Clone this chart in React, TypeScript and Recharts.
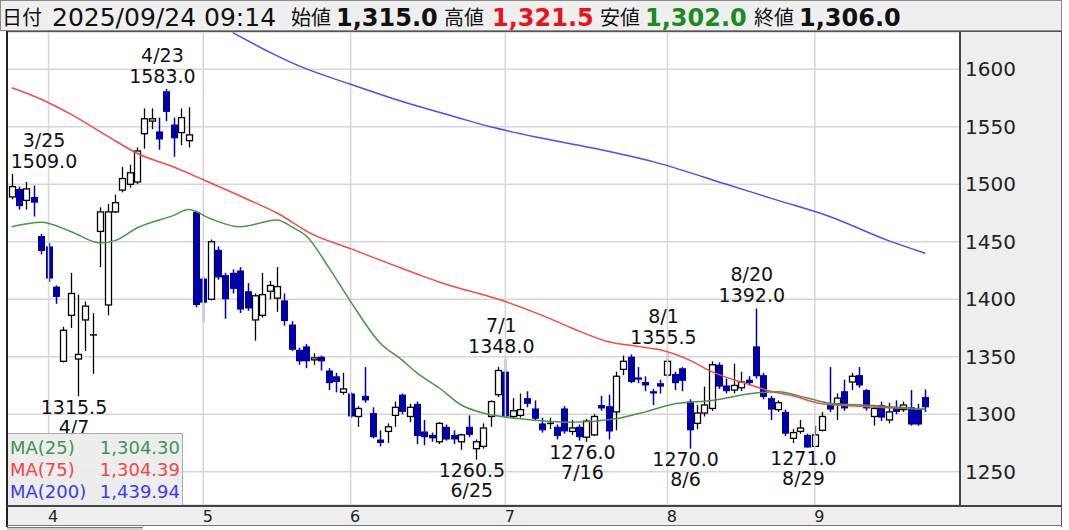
import React from "react";
import { ComposedChart, Bar, Line, XAxis, YAxis, CartesianGrid, ReferenceLine, ReferenceDot } from "recharts";

const dates = [
  "3/25", "3/26", "3/27", "3/28", "3/31",
  "4/1", "4/2", "4/3", "4/4", "4/7", "4/8", "4/9", "4/10", "4/11", "4/14", "4/15", "4/16", "4/17", "4/18", "4/21", "4/22", "4/23", "4/24", "4/25", "4/28", "4/30",
  "5/1", "5/2", "5/7", "5/8", "5/9", "5/12", "5/13", "5/14", "5/15", "5/16", "5/19", "5/20", "5/21", "5/22", "5/23", "5/26", "5/27", "5/28", "5/29", "5/30",
  "6/2", "6/3", "6/4", "6/5", "6/6", "6/9", "6/10", "6/11", "6/12", "6/13", "6/16", "6/17", "6/18", "6/19", "6/20", "6/23", "6/24", "6/25", "6/26", "6/27", "6/30",
  "7/1", "7/2", "7/3", "7/4", "7/7", "7/8", "7/9", "7/10", "7/11", "7/14", "7/15", "7/16", "7/17", "7/18", "7/22", "7/23", "7/24", "7/25", "7/28", "7/29", "7/30", "7/31",
  "8/1", "8/4", "8/5", "8/6", "8/7", "8/8", "8/12", "8/13", "8/14", "8/15", "8/18", "8/19", "8/20", "8/21", "8/22", "8/25", "8/26", "8/27", "8/28", "8/29",
  "9/1", "9/2", "9/3", "9/4", "9/5", "9/8", "9/9", "9/10", "9/11", "9/12", "9/16", "9/17", "9/18", "9/19", "9/22", "9/24",
];

const opens = [
  1489, 1496, 1486, 1489, 1455,
  1446, 1411, 1346, 1386, 1348, 1382, 1369, 1459, 1395, 1476, 1495, 1500, 1502, 1544, 1555, 1546, 1581, 1552, 1545, 1538, 1476,
  1418, 1400, 1443, 1421, 1423, 1425, 1407, 1382, 1386, 1407, 1401, 1399, 1378, 1356, 1359, 1348, 1350, 1338, 1333, 1319,
  1318, 1298, 1316, 1301, 1278, 1285, 1299, 1317, 1298, 1309, 1285, 1282, 1276, 1289, 1282, 1276, 1289, 1270, 1272, 1298, 1317,
  1337, 1298, 1299, 1314, 1305, 1292, 1292, 1289, 1305, 1285, 1289, 1280, 1282, 1308, 1307, 1302, 1339, 1350, 1332, 1328, 1320, 1327,
  1334, 1335, 1340, 1311, 1292, 1301, 1305, 1343, 1325, 1321, 1323, 1330, 1359, 1334, 1314, 1304, 1302, 1279, 1285, 1282,
  1272, 1286, 1309, 1309, 1320, 1328, 1334, 1321, 1298, 1308, 1295, 1306, 1304, 1306, 1304, 1315,
];

const highs = [
  1509, 1498, 1502, 1499, 1457,
  1449, 1412, 1376, 1423, 1404, 1398, 1388, 1480, 1483, 1491, 1515, 1517, 1532, 1566, 1566, 1558, 1583, 1558, 1566, 1567, 1477,
  1420, 1452, 1446, 1423, 1426, 1428, 1414, 1405, 1423, 1416, 1428, 1405, 1381, 1358, 1361, 1353, 1351, 1340, 1336, 1336,
  1319, 1307, 1341, 1306, 1286, 1292, 1311, 1318, 1309, 1311, 1295, 1284, 1293, 1291, 1286, 1283, 1299, 1278, 1292, 1312, 1341,
  1348, 1314, 1318, 1320, 1312, 1297, 1297, 1291, 1307, 1295, 1291, 1296, 1300, 1316, 1317, 1337, 1351, 1352, 1341, 1333, 1322, 1330,
  1355.5, 1337, 1341, 1313, 1308, 1324, 1346, 1345, 1331, 1344, 1337, 1333, 1392, 1336, 1316, 1312, 1304, 1287, 1295, 1283,
  1290, 1302, 1341, 1318, 1330, 1336, 1341, 1322, 1307, 1311, 1310, 1312, 1311, 1321, 1309, 1321.5,
];

const lows = [
  1487, 1478, 1478, 1472, 1439,
  1415, 1396, 1345, 1375, 1315.5, 1355, 1335, 1428, 1386, 1475, 1493, 1497, 1500, 1531, 1548, 1530, 1555, 1524, 1534, 1532, 1393,
  1380, 1399, 1417, 1383, 1405, 1388, 1390, 1364, 1384, 1400, 1389, 1377, 1355, 1343, 1340, 1343, 1338, 1321, 1319, 1317,
  1297, 1289, 1310, 1279, 1272, 1275, 1289, 1300, 1293, 1274, 1273, 1276, 1274, 1277, 1274, 1269, 1280, 1260.5, 1270, 1289, 1315,
  1297, 1296, 1297, 1306, 1294, 1284, 1287, 1278, 1283, 1282, 1277, 1276, 1281, 1303, 1278, 1286, 1334, 1327, 1327, 1320, 1308, 1318,
  1332, 1321, 1320, 1270, 1287, 1298, 1303, 1322, 1318, 1318, 1320, 1325, 1331, 1313, 1295, 1302, 1281, 1275, 1283, 1271,
  1272, 1285, 1302, 1295, 1303, 1321, 1323, 1303, 1290, 1294, 1292, 1300, 1302, 1290, 1290, 1302,
];

const closes = [
  1498, 1481, 1496, 1484, 1442,
  1418, 1402, 1373, 1405, 1352, 1394, 1369, 1476, 1476, 1484, 1505, 1510, 1529, 1557, 1557, 1539, 1563, 1540, 1558, 1543, 1395,
  1397, 1450, 1419, 1400, 1409, 1391, 1392, 1403, 1404, 1412, 1411, 1381, 1356, 1346, 1346, 1349, 1346, 1327, 1328, 1322,
  1298, 1305, 1312, 1280, 1275, 1289, 1306, 1302, 1306, 1281, 1280, 1279, 1292, 1278, 1278, 1282, 1282, 1276, 1288, 1311, 1338,
  1298, 1303, 1304, 1309, 1296, 1286, 1292, 1281, 1285, 1288, 1280, 1294, 1298, 1305, 1285, 1333, 1346, 1328, 1330, 1325, 1318, 1324,
  1346, 1327, 1329, 1286, 1301, 1308, 1343, 1324, 1320, 1325, 1328, 1327, 1333, 1315, 1304, 1310, 1283, 1284, 1288, 1271,
  1282, 1298, 1304, 1314, 1305, 1333, 1325, 1305, 1305, 1297, 1302, 1302, 1308, 1291, 1291, 1306,
];

// moving averages, as [candle index, value]
const ma25Points: [number, number][] = [
  [0, 1463], [4, 1467], [8, 1459], [12, 1449], [14, 1451], [17, 1462], [22, 1473], [24, 1478], [27, 1470],
  [31, 1463], [36, 1469], [38, 1463], [40, 1455], [43, 1428], [46, 1398], [50, 1362], [53, 1347], [55, 1336],
  [58, 1323], [61, 1308], [64, 1301], [69, 1296], [76, 1293], [82, 1296], [86, 1302], [90, 1309], [95, 1312],
  [101, 1318.5], [104, 1319.5], [108, 1314], [111, 1309.6], [117, 1307.5], [124, 1304.3],
];
const ma75Points: [number, number][] = [
  [0, 1584], [4, 1574], [8, 1561], [13, 1542], [17, 1527], [22, 1515], [26, 1504], [32, 1487], [36, 1475],
  [41, 1456], [46, 1444], [50, 1434], [55, 1422], [58, 1415], [67, 1398], [72, 1386], [76, 1375], [81, 1363],
  [85, 1359], [88, 1356], [92, 1347], [95, 1337], [98, 1330], [100, 1326], [103, 1320], [106, 1316], [110, 1309],
  [115, 1307], [119, 1305.7], [124, 1304.4],
];
const ma200Points: [number, number][] = [
  [30, 1632], [35, 1615], [39, 1603], [46, 1587], [53, 1572], [60, 1559], [65, 1550], [72, 1540], [80, 1530],
  [88, 1518], [97, 1500], [104, 1486], [111, 1472], [119, 1451], [124, 1440],
];

const monthStarts = ["4/1", "5/1", "6/2", "7/1", "8/1", "9/1"];
const yTicks = [1250, 1300, 1350, 1400, 1450, 1500, 1550, 1600];

const highMarks = [
  { date: "3/25", value: 1509.0 },
  { date: "4/23", value: 1583.0 },
  { date: "7/1", value: 1348.0 },
  { date: "8/1", value: 1355.5 },
  { date: "8/20", value: 1392.0 },
];
const lowMarks = [
  { date: "4/7", value: 1315.5 },
  { date: "6/25", value: 1260.5 },
  { date: "7/16", value: 1276.0 },
  { date: "8/6", value: 1270.0 },
  { date: "8/29", value: 1271.0 },
];

const m25 = new Map(ma25Points);
const m75 = new Map(ma75Points);
const m200 = new Map(ma200Points);

const data = dates.map((date, i) => ({
  date,
  open: opens[i],
  high: highs[i],
  low: lows[i],
  close: closes[i],
  ma25: m25.has(i) ? m25.get(i) : null,
  ma75: m75.has(i) ? m75.get(i) : null,
  ma200: m200.has(i) ? m200.get(i) : null,
}));

const BLUE = "#0000a8";
const FONT = "DejaVu Sans";

function Candle(props: any) {
  const { x, y, width, height, payload } = props;
  if (x == null || !payload) return null;
  const { open, high, low, close } = payload;
  const cx = Math.round(x + width / 2) + 0.5;
  const span = high - low;
  const toY = (v: number) => (span ? y + ((high - v) / span) * height : y);
  const top = toY(Math.max(open, close));
  const bot = toY(Math.min(open, close));
  if (open === close) {
    return (
      <g>
        <line x1={cx} x2={cx} y1={y} y2={y + height} stroke="#000" strokeWidth={1.3} />
        <line x1={cx - 3.5} x2={cx + 3.5} y1={top} y2={top} stroke="#000" strokeWidth={1.5} />
      </g>
    );
  }
  if (close > open) {
    return (
      <g>
        <line x1={cx} x2={cx} y1={y} y2={y + height} stroke="#000" strokeWidth={1.3} />
        <rect x={cx - 3} y={top} width={6} height={Math.max(bot - top, 2)} fill="#fff" stroke="#000" strokeWidth={1.3} />
      </g>
    );
  }
  return (
    <g>
      <line x1={cx} x2={cx} y1={y} y2={y + height} stroke={BLUE} strokeWidth={1.5} />
      <rect x={cx - 3.5} y={top} width={7} height={Math.max(bot - top, 1.5)} fill={BLUE} />
    </g>
  );
}

const labelStyle = { fontSize: 19, fontFamily: FONT, fill: "#111" };

function HighLabel(props: any) {
  const { cx, cy, mark } = props;
  if (cx == null) return null;
  const tx = Math.max(cx - 4, 44);
  return (
    <g>
      <text x={tx} y={cy - 27} textAnchor="middle" {...labelStyle}>{mark.date}</text>
      <text x={tx} y={cy - 6} textAnchor="middle" {...labelStyle}>{mark.value.toFixed(1)}</text>
    </g>
  );
}

function LowLabel(props: any) {
  const { cx, cy, mark } = props;
  if (cx == null) return null;
  const tx = cx - 4;
  return (
    <g>
      <text x={tx} y={cy + 17.5} textAnchor="middle" {...labelStyle}>{mark.value.toFixed(1)}</text>
      <text x={tx} y={cy + 37.5} textAnchor="middle" {...labelStyle}>{mark.date}</text>
    </g>
  );
}

function PriceTick(props: any) {
  const { x, y, payload } = props;
  return (
    <text x={x + 5} y={y + 7} textAnchor="start" fontSize={20} fontFamily={FONT} fill="#222">
      {payload.value}
    </text>
  );
}

function MonthTick(props: any) {
  const { x, y, payload } = props;
  return (
    <text x={x + 4.5} y={y + 17} textAnchor="middle" fontSize={16} fontFamily={FONT} fill="#222">
      {String(payload.value).split("/")[0]}
    </text>
  );
}

const header = [
  { text: "日付", x: 2, kind: "label" },
  { text: "2025/09/24 09:14", x: 52, kind: "date" },
  { text: "始値", x: 291, kind: "label" },
  { text: "1,315.0", x: 336, kind: "value", color: "#111" },
  { text: "高値", x: 444, kind: "label" },
  { text: "1,321.5", x: 492, kind: "value", color: "#e8141c" },
  { text: "安値", x: 600, kind: "label" },
  { text: "1,302.0", x: 645, kind: "value", color: "#1c8a1c" },
  { text: "終値", x: 754, kind: "label" },
  { text: "1,306.0", x: 799, kind: "value", color: "#111" },
];

function headerStyle(kind: string, x: number, color?: string): React.CSSProperties {
  if (kind === "label") {
    return { position: "absolute", left: x, top: 25 - 0.88 * 20, fontSize: 20, lineHeight: "20px", fontFamily: "Noto Sans CJK JP", color: "#111", whiteSpace: "nowrap" };
  }
  const size = kind === "date" ? 25 : 24;
  return {
    position: "absolute", left: x, top: 26 - 0.846 * size, fontSize: size, lineHeight: `${size}px`,
    fontFamily: FONT, fontWeight: kind === "value" ? "bold" : "normal", color: color || "#111", whiteSpace: "nowrap",
  };
}

const legendRows = [
  { name: "MA(25)", value: "1,304.30", color: "#3c9650" },
  { name: "MA(75)", value: "1,304.39", color: "#f04646" },
  { name: "MA(200)", value: "1,439.94", color: "#3c3cf0" },
];

export default function App() {
  return (
    <div style={{ position: "relative", width: 1069, height: 530, overflow: "hidden", background: "#fff" }}>
      <style>{"body{margin:0;}"}</style>

      <div style={{ position: "absolute", left: 0, top: 0, width: 1062, height: 31, boxSizing: "border-box", border: "1px solid #8a8a8a", background: "#efefef" }} />
      {header.map((h) => (
        <span key={h.text} style={headerStyle(h.kind, h.x, h.color)}>{h.text}</span>
      ))}

      <div style={{ position: "absolute", left: 960, top: 32, width: 102, height: 473, background: "#eeeeee" }} />
      <div style={{ position: "absolute", left: 7, top: 505, width: 1055, height: 21, background: "#eeeeee" }} />

      <div style={{ position: "absolute", left: 0, top: 32 }}>
        <ComposedChart width={1062} height={495} data={data} margin={{ top: 0, right: 0, bottom: 0, left: 8 }}>
          <CartesianGrid vertical={false} stroke="#d6d6d6" strokeWidth={1.5} />
          {monthStarts.map((d) => (
            <ReferenceLine key={d} x={d} stroke="#d6d6d6" strokeWidth={1.5} />
          ))}
          <XAxis
            dataKey="date"
            ticks={monthStarts}
            interval={0}
            height={22}
            axisLine={false}
            tickLine={false}
            tickSize={0}
            tickMargin={0}
            padding={{ left: 0, right: 31 }}
            tick={<MonthTick />}
          />
          <YAxis
            orientation="right"
            width={102}
            domain={[1221, 1632.5]}
            ticks={yTicks}
            allowDataOverflow
            axisLine={false}
            tickLine={false}
            tickSize={0}
            tickMargin={0}
            tick={<PriceTick />}
          />
          <Bar dataKey={(d: any) => [d.low, d.high]} shape={<Candle />} isAnimationActive={false} />
          <Line dataKey="ma200" type="monotone" stroke="#4d4df0" strokeWidth={1.5} dot={false} connectNulls isAnimationActive={false} />
          <Line dataKey="ma75" type="monotone" stroke="#f04a4a" strokeWidth={1.5} dot={false} connectNulls isAnimationActive={false} />
          <Line dataKey="ma25" type="monotone" stroke="#4a944a" strokeWidth={1.5} dot={false} connectNulls isAnimationActive={false} />
          {highMarks.map((m) => (
            <ReferenceDot key={"h" + m.date} x={m.date} y={m.value} r={0} shape={(p: any) => <HighLabel {...p} mark={m} />} />
          ))}
          {lowMarks.map((m) => (
            <ReferenceDot key={"l" + m.date} x={m.date} y={m.value} r={0} shape={(p: any) => <LowLabel {...p} mark={m} />} />
          ))}
        </ComposedChart>
      </div>

      {/* frame */}
      <div style={{ position: "absolute", left: 7, top: 31, width: 1055, height: 1, background: "#555" }} />
      <div style={{ position: "absolute", left: 6, top: 31, width: 2, height: 496, background: "#222" }} />
      <div style={{ position: "absolute", left: 1061, top: 31, width: 1, height: 496, background: "#555" }} />
      <div style={{ position: "absolute", left: 959, top: 32, width: 2, height: 473, background: "#444" }} />
      <div style={{ position: "absolute", left: 7, top: 505, width: 1055, height: 2, background: "#444" }} />
      <div style={{ position: "absolute", left: 7, top: 525, width: 1055, height: 1, background: "#777" }} />
      <div style={{ position: "absolute", left: 7, top: 527, width: 136, height: 3, background: "#cfcfcf", borderTop: "1px solid #777" }} />

      {/* legend */}
      <div style={{ position: "absolute", left: 8, top: 433, width: 175, height: 72, boxSizing: "border-box", background: "rgba(236,236,236,0.92)", borderTop: "1px solid #aaa", borderRight: "1px solid #aaa", paddingTop: 3 }}>
        {legendRows.map((r) => (
          <div key={r.name} style={{ position: "relative", height: 22, lineHeight: "22px", fontFamily: FONT, fontSize: 18, color: r.color }}>
            <span style={{ position: "absolute", left: 2 }}>{r.name}</span>
            <span style={{ position: "absolute", right: 2 }}>{r.value}</span>
          </div>
        ))}
      </div>
    </div>
  );
}
